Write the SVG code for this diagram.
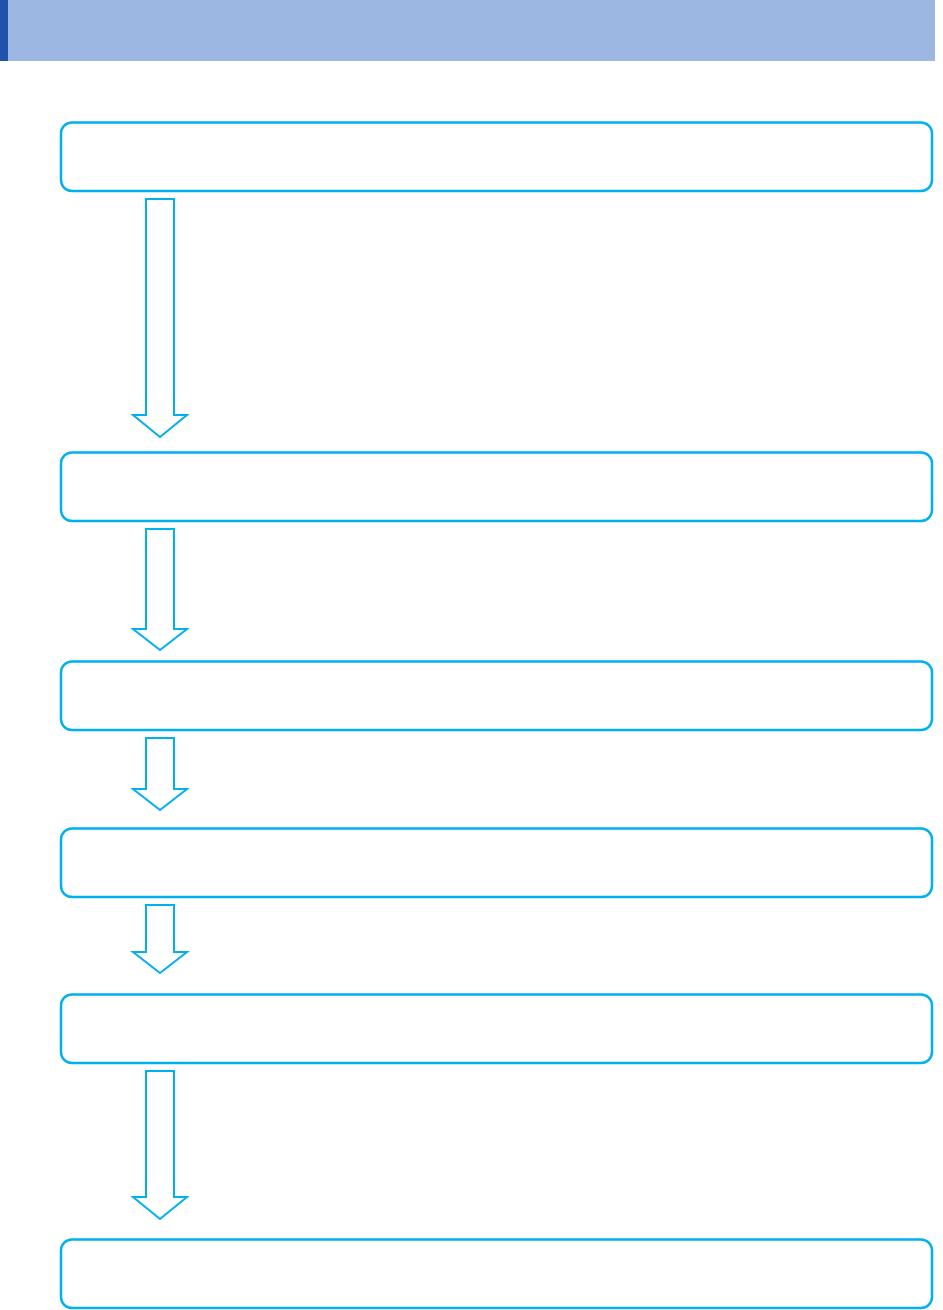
<svg xmlns="http://www.w3.org/2000/svg" width="943" height="1310" viewBox="0 0 943 1310">
<style>
.box{fill:#fff;stroke:#00b0f0;stroke-width:2.5}
.arr{fill:#fff;stroke:#00b0f0;stroke-width:2;stroke-linejoin:miter}
</style>
<rect width="943" height="1310" fill="#fff"/>
<g id="header">
<rect x="0" y="0" width="935" height="61" fill="#9cb8e2"/>
<rect x="0" y="0" width="8" height="61" fill="#1f52aa"/>
</g>
<g id="n1"><rect class="box" x="61" y="122.5" width="871" height="68.5" rx="11"/></g>
<g id="n2"><rect class="box" x="61" y="452.5" width="871" height="68.5" rx="11"/></g>
<g id="n3"><rect class="box" x="61" y="661.5" width="871" height="68.5" rx="11"/></g>
<g id="n4"><rect class="box" x="61" y="828.5" width="871" height="68.5" rx="11"/></g>
<g id="n5"><rect class="box" x="61" y="994.5" width="871" height="68.5" rx="11"/></g>
<g id="n6"><rect class="box" x="61" y="1239.5" width="871" height="68.5" rx="11"/></g>
<g id="connectors">
<path class="arr" d="M146,199 H174 V415 H187 L160,437 L133,415 H146 Z"/>
<path class="arr" d="M146,529 H174 V629 H187 L160,650 L133,629 H146 Z"/>
<path class="arr" d="M146,738 H174 V789 H187 L160,810 L133,789 H146 Z"/>
<path class="arr" d="M146,905 H174 V952 H187 L160,973 L133,952 H146 Z"/>
<path class="arr" d="M146,1071 H174 V1197 H187 L160,1219 L133,1197 H146 Z"/>
</g>
</svg>
